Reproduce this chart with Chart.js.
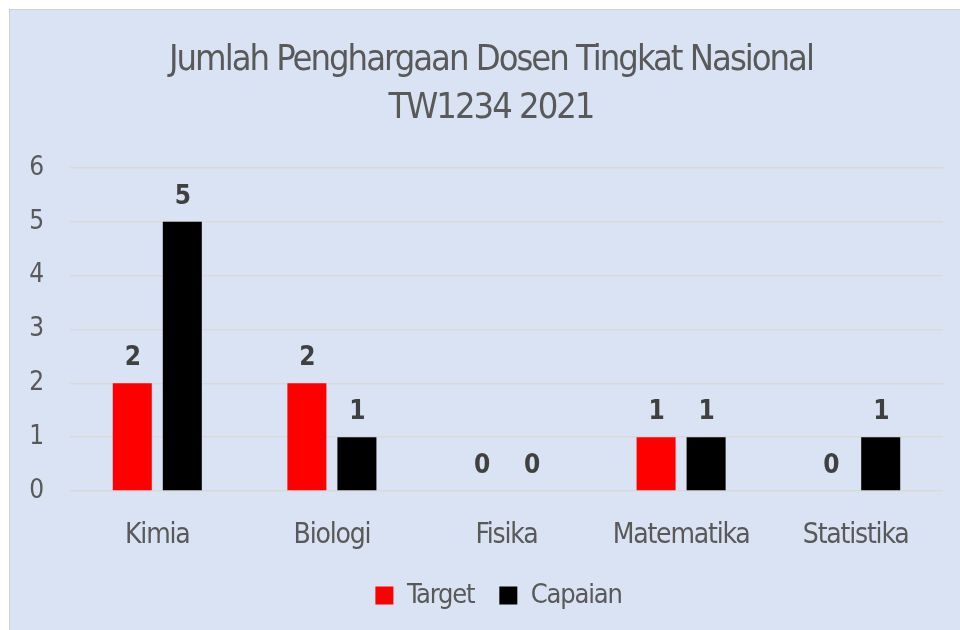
<!DOCTYPE html>
<html>
<head>
<meta charset="utf-8">
<script src="https://cdn.jsdelivr.net/npm/chart.js@4/dist/chart.umd.min.js"></script>
<style>
    body { margin: 0; background: #ffffff; }
    #frame {
        position: absolute; left: 9px; top: 9px;
        width: 950px; height: 620px;
        background: #dae3f3;
        border-left: 1px solid #d0d0d0;
        border-top: 1px solid #d0d0d0;
    }
    #chart { display: block; }
</style>
</head>
<body>
<div id="frame"><canvas id="chart" width="950" height="620"></canvas></div>
<script>
// chart data
const categories = ["Kimia", "Biologi", "Fisika", "Matematika", "Statistika"];
const targetValues = [2, 2, 0, 1, 0];
const capaianValues = [5, 1, 0, 1, 1];
const yTicks = [0, 1, 2, 3, 4, 5, 6];
const titleLines = ["Jumlah Penghargaan Dosen Tingkat Nasional", "TW1234 2021"];

const fontFamily = "'Liberation Sans Narrow', 'DejaVu Sans Condensed', Roboto, sans-serif";
const textColor = "#595959";

// the original font is very narrow, so tighten all text a bit
const tightText = {
    id: "tightText",
    beforeLayout(chart) { chart.ctx.letterSpacing = "-1.2px"; },
    beforeDraw(chart) { chart.ctx.letterSpacing = "-1.2px"; }
};

// legend sits a little right of the centre in the original
const legendShift = {
    id: "legendShift",
    afterLayout(chart) {
        chart.legend.left += 22;
        chart.legend.right += 22;
    }
};

// title drawn by hand so it can be squeezed more than the rest
const titleText = {
    id: "titleText",
    afterDraw(chart) {
        const ctx = chart.ctx;
        ctx.save();
        ctx.letterSpacing = "-2px";
        ctx.font = "36px " + fontFamily;
        ctx.fillStyle = textColor;
        ctx.textAlign = "center";
        ctx.textBaseline = "middle";
        titleLines.forEach((line, i) => {
            ctx.fillText(line, chart.width / 2 + 6, 51 + i * 48);
        });
        ctx.restore();
    }
};

// draws the value above every bar (also the zero ones)
const valueLabels = {
    id: "valueLabels",
    afterDatasetsDraw(chart) {
        const ctx = chart.ctx;
        ctx.save();
        ctx.font = "bold 26px " + fontFamily;
        ctx.fillStyle = "#404040";
        ctx.textAlign = "center";
        ctx.textBaseline = "alphabetic";
        chart.data.datasets.forEach((ds, i) => {
            chart.getDatasetMeta(i).data.forEach((bar, j) => {
                ctx.fillText(ds.data[j], bar.x, bar.y - 18);
            });
        });
        ctx.restore();
    }
};

new Chart(document.getElementById("chart"), {
    type: "bar",
    data: {
        labels: categories,
        datasets: [
            { label: "Target", data: targetValues, backgroundColor: "#ff0000" },
            { label: "Capaian", data: capaianValues, backgroundColor: "#000000" }
        ]
    },
    options: {
        responsive: false,
        animation: false,
        categoryPercentage: 0.573,
        barPercentage: 0.78,
        layout: { padding: { left: 0, right: 17, top: 158, bottom: 11 } },
        plugins: {
            title: { display: false },
            legend: {
                position: "bottom",
                labels: {
                    color: textColor,
                    font: { family: fontFamily, size: 27 },
                    boxWidth: 18,
                    boxHeight: 18,
                    padding: 25
                }
            },
            tooltip: { enabled: false }
        },
        scales: {
            x: {
                grid: { display: false },
                border: { display: false },
                ticks: { color: textColor, font: { family: fontFamily, size: 28 }, padding: 20 },
                afterFit(scale) { scale.height = 66; }
            },
            y: {
                min: 0,
                max: 6,
                afterBuildTicks(scale) { scale.ticks = yTicks.map(v => ({ value: v })); },
                grid: { color: "#d9d9d9", lineWidth: 1.5, drawTicks: false },
                border: { display: false },
                ticks: { color: textColor, font: { family: fontFamily, size: 26 }, padding: 27 },
                afterFit(scale) { scale.width = 60; }
            }
        }
    },
    plugins: [tightText, legendShift, valueLabels, titleText]
});
</script>
</body>
</html>
